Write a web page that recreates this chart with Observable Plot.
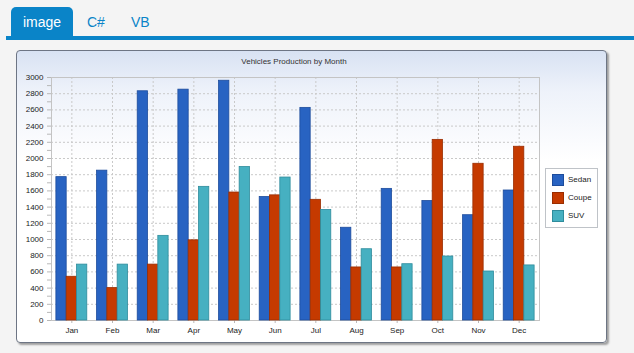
<!DOCTYPE html>
<html>
<head>
<meta charset="utf-8">
<script src="https://cdn.jsdelivr.net/npm/d3@7"></script>
<script src="https://cdn.jsdelivr.net/npm/@observablehq/plot@0.6"></script>
<style>
  html, body { margin: 0; padding: 0; }
  body { width: 634px; height: 353px; background: #f4f4f4; position: relative; overflow: hidden; font-family: "Liberation Sans", Arial, sans-serif; }
  .tabline { position: absolute; left: 6px; top: 36px; width: 628px; height: 4px; background: #0a84c8; }
  .tab { position: absolute; top: 7px; height: 30px; line-height: 30px; font-size: 14px; }
  .tab.active { left: 11px; width: 62px; background: #0a84c8; color: #fff; text-align: center; border-radius: 5px 5px 0 0; }
  .tab.c { left: 87px; color: #0a84c8; }
  .tab.vb { left: 131px; color: #0a84c8; }
  .panel { position: absolute; left: 16px; top: 50px; width: 589px; height: 291px; border: 1px solid #6d7584; border-radius: 4px;
           box-shadow: 2px 2px 2px rgba(0,0,0,0.35);
           background: linear-gradient(to bottom, #d8e2f3 0px, #eef2fa 40px, #ffffff 110px); }
  .title { position: absolute; left: 16px; width: 556px; top: 56px; text-align: center; font-size: 8px; line-height: 12px; color: #333; }
  .layer { position: absolute; left: 16px; top: 66px; }
  .legend { position: absolute; left: 545px; top: 168px; width: 51px; height: 58px; border: 1px solid #bfc3c8; background: #fff; }
  .item { position: absolute; left: 6px; height: 11px; font-size: 8px; line-height: 11px; color: #222; }
  .sw { position: absolute; left: 0; top: 0; width: 10px; height: 10px; }
  .lbl { position: absolute; left: 16px; top: 0; white-space: nowrap; }
</style>
</head>
<body>
<div class="tabline"></div>
<div class="tab active">image</div>
<div class="tab c">C#</div>
<div class="tab vb">VB</div>
<div class="panel"></div>
<div class="title">Vehicles Production by Month</div>
<div id="bg" class="layer"></div>
<div id="fg" class="layer"></div>
<div id="legend" class="legend"></div>
<script>
const months = ["Jan","Feb","Mar","Apr","May","Jun","Jul","Aug","Sep","Oct","Nov","Dec"];
const series = ["Sedan","Coupe","SUV"];
const sedan = [1770,1850,2830,2850,2960,1525,2625,1145,1625,1475,1300,1605];
const coupe = [540,400,690,990,1580,1545,1490,655,655,2230,1935,2145];
const suv   = [690,690,1045,1650,1895,1765,1365,880,695,790,605,680];
const yTicks = [0,200,400,600,800,1000,1200,1400,1600,1800,2000,2200,2400,2600,2800,3000];
const yMinor = [100,300,500,700,900,1100,1300,1500,1700,1900,2100,2300,2500,2700,2900];

const colors = ["#2863c2","#c53a00","#46b0c1"];
const edges  = ["#1d4c9c","#9a2d00","#2f8c9c"];
const values = [sedan, coupe, suv];

const data = months.flatMap((m, i) => series.map((s, j) => ({month: m, series: s, value: values[j][i]})));

const W = 530, H = 280;
const M = {marginLeft: 35, marginRight: 7, marginTop: 11, marginBottom: 26};
const font = {background: "transparent", fontFamily: "'Liberation Sans', Arial, sans-serif", fontSize: "8px", color: "#222", overflow: "visible"};

const bg = Plot.plot({
  width: W, height: H, ...M,
  style: font,
  x: {type: "band", domain: months, padding: 0, round: false},
  y: {domain: [0, 3000]},
  marks: [
    Plot.ruleY(yTicks, {y: d => d, stroke: "#c9c9c9", strokeDasharray: "2,2"}),
    Plot.ruleX(months, {x: d => d, stroke: "#c9c9c9", strokeDasharray: "2,2"}),
    Plot.frame({stroke: "#c4c4c4"}),
    Plot.axisY(yMinor.concat(yTicks), {tickSize: 4, tickFormat: () => "", stroke: "#b8b8b8", label: null}),
    Plot.axisY(yTicks, {tickSize: 0, tickPadding: 8, tickFormat: d => String(d), fill: "#222", label: null}),
    Plot.axisX(months, {tickSize: 3, tickPadding: 4, stroke: "#b8b8b8", fill: "#222", label: null})
  ]
});
document.getElementById("bg").appendChild(bg);

const fg = Plot.plot({
  width: W, height: H, ...M,
  style: font,
  fx: {domain: months, paddingInner: 0.24, paddingOuter: 0.12, round: false, axis: null, label: null},
  x: {domain: series, padding: 0, round: false, axis: null},
  y: {domain: [0, 3000], axis: null},
  marks: series.map((s, j) =>
    Plot.barY(data, {filter: d => d.series === s, fx: "month", x: "series", y: "value",
      fill: colors[j], stroke: edges[j], strokeWidth: 0.8}))
});
document.getElementById("fg").appendChild(fg);

const legend = document.getElementById("legend");
series.forEach((s, j) => {
  const it = document.createElement("div");
  it.className = "item";
  it.style.top = (5 + j * 18) + "px";
  it.innerHTML = `<div class="sw" style="background:${colors[j]};border:0.5px solid ${edges[j]}"></div><div class="lbl">${s}</div>`;
  legend.appendChild(it);
});
</script>
</body>
</html>
